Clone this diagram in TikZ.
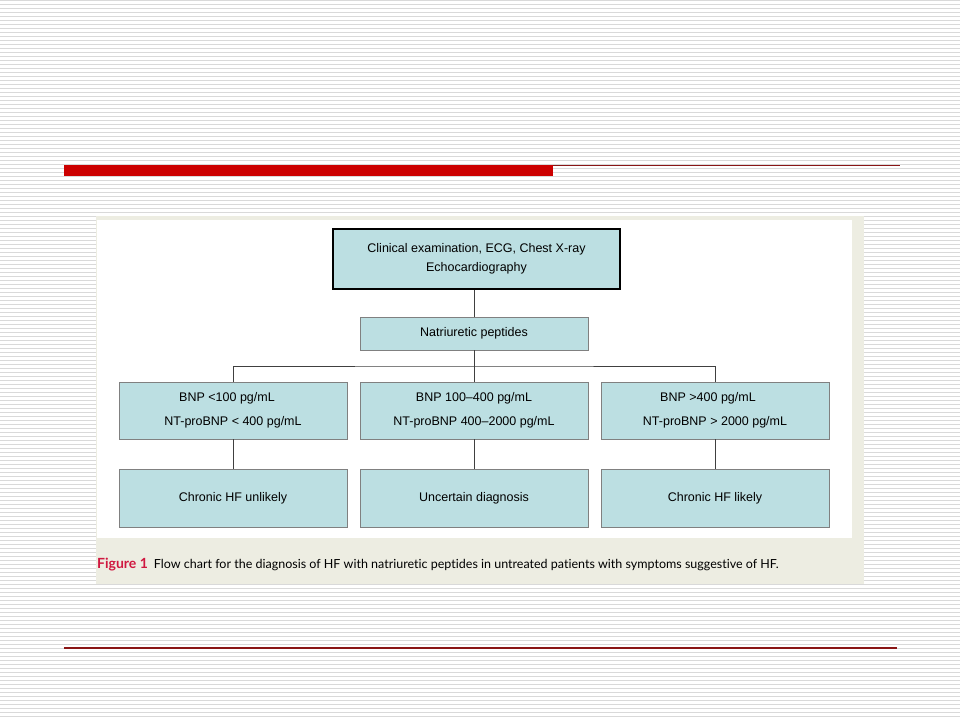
\documentclass[tikz,border=0pt]{standalone}
\usepackage{fontspec}
\setmainfont{Liberation Sans}
\newfontfamily\capfont[Ligatures=CommonOff]{Lato}
\begin{document}
\begin{tikzpicture}[x=1pt,y=-1pt,
  stripe/.style={fill=black!15},
  box/.style={draw=black!50, line width=0.9pt, fill=boxfill, minimum width=228pt, inner sep=0pt, align=center, font=\fontsize{12.5}{24}\selectfont},
  topbox/.style={box, draw=black, line width=1.8pt, minimum width=287pt, minimum height=60pt, font=\fontsize{12.5}{19}\selectfont},
  conn/.style={draw=black!75, line width=0.9pt}]
\definecolor{boxfill}{HTML}{BCDFE2}
\definecolor{panelbeige}{HTML}{EDEDE2}
\definecolor{barred}{HTML}{CC0000}
\definecolor{darkred}{HTML}{8A1515}
\definecolor{figred}{HTML}{D01840}
\useasboundingbox (0,0) rectangle (960,720);
\fill[white] (0,0) rectangle (960,720);
\foreach \i in {0,...,179} \fill[stripe] (0,\i*4) rectangle (960,\i*4+1.3);
% title bar
\fill[barred] (64,165) rectangle (553,176);
\draw[darkred, line width=1pt] (553,165.5) -- (900,165.5);
% bottom line
\draw[darkred, line width=1.6pt] (64,648) -- (897,648);
% figure panel
\fill[panelbeige] (96,216) rectangle (864,584);
\fill[white] (97,220) rectangle (852,538);
% nodes
\node[topbox] (top) at (476.5,259) {Clinical examination, ECG, Chest X-ray\\Echocardiography};
\node[box, minimum height=33pt] (np) at (474,333.5) {Natriuretic peptides};
\node[box, minimum height=57pt] (la) at (233,410.5) {\hspace*{-12pt}BNP <100 pg/mL\\NT-proBNP < 400 pg/mL};
\node[box, minimum height=57pt] (lb) at (474,410.5) {BNP 100–400 pg/mL\\NT-proBNP 400–2000 pg/mL};
\node[box, minimum height=57pt] (lc) at (715,410.5) {\hspace*{-14pt}BNP >400 pg/mL\\NT-proBNP > 2000 pg/mL};
\node[box, minimum height=58pt] (ra) at (233,498) {Chronic HF unlikely};
\node[box, minimum height=58pt] (rb) at (474,498) {Uncertain diagnosis};
\node[box, minimum height=58pt] (rc) at (715,498) {Chronic HF likely};
\coordinate (bus) at (474,366);
% connectors
\draw[conn] (np.north) -- (np.north |- top.south);
\draw[conn] (np.south) -- (lb.north);
\draw[conn] (la.north) |- (bus) -| (lc.north);
\draw[conn] (la.south) -- (ra.north);
\draw[conn] (lb.south) -- (rb.north);
\draw[conn] (lc.south) -- (rc.north);
% caption
\node[anchor=west, inner sep=0pt, font=\capfont\fontsize{12.5}{14}\selectfont] (cap) at (97,565)
  {\textcolor{figred}{\bfseries\fontsize{14}{14}\selectfont Figure 1}\hspace{6pt}Flow chart for the diagnosis of HF with natriuretic peptides in untreated patients with symptoms suggestive of HF.};
\end{tikzpicture}
\end{document}
